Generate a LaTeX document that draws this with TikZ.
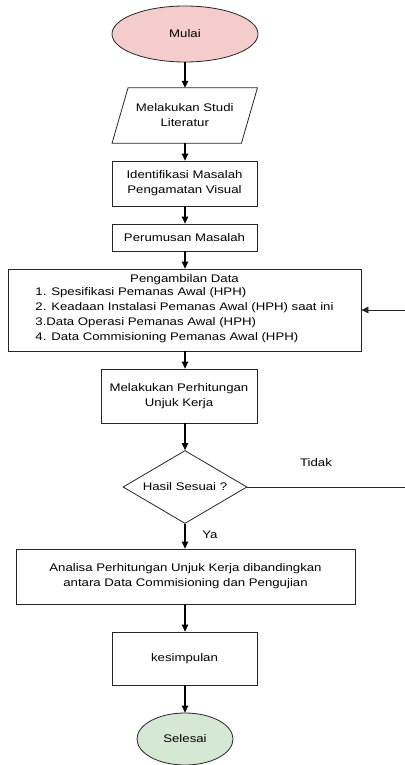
\documentclass[tikz,border=0pt]{standalone}
\usepackage{fontspec}
\setmainfont{Liberation Sans}[FakeStretch=1.2]
\usetikzlibrary{arrows.meta,shapes.geometric}
\begin{document}
\begin{tikzpicture}[x=1pt,y=-1pt,
  every node/.style={font=\fontsize{11}{15}\selectfont, inner sep=0pt, align=center},
  box/.style={draw=black!85, line width=0.8pt, fill=white},
  arr/.style={line width=1.2pt, -{Triangle[width=6.5pt,length=7pt]}},
  thinln/.style={line width=0.7pt, draw=black!85},
  lbl/.style={font=\fontsize{11}{13}\selectfont}]
\useasboundingbox (0,0) rectangle (404,765);
\node[ellipse, box, fill={rgb,255:red,244;green,204;blue,204}, minimum width=146, minimum height=56] (mulai) at (185,34) {Mulai};
\node[minimum width=129, minimum height=55] (lit) at (184.75,115.5) {Melakukan Studi\\Literatur};
\draw[draw=black!85, line width=0.8pt] ([xshift=8]lit.north west) -- ([xshift=8]lit.north east) -- ([xshift=-8]lit.south east) -- ([xshift=-8]lit.south west) -- cycle;
\node[box, minimum width=145, minimum height=45] (ident) at (184.5,183.5) {Identifikasi Masalah\\Pengamatan Visual};
\node[box, minimum width=145, minimum height=27] (rumus) at (184.5,237.5) {Perumusan Masalah};
\node[box, minimum width=353, minimum height=82] (peng) at (184.5,310) {Pengambilan Data\\[-1pt]
\begin{tabular}{@{}l@{}}1. Spesifikasi Pemanas Awal (HPH)\\2. Keadaan Instalasi Pemanas Awal (HPH) saat ini\\3.Data Operasi Pemanas Awal (HPH)\\4. Data Commisioning Pemanas Awal (HPH)\end{tabular}};
\node[box, minimum width=156, minimum height=54] (perh) at (179,396) {Melakukan Perhitungan\\Unjuk Kerja};
\node[diamond, box, minimum width=124, minimum height=73, aspect=1.7] (dec) at (185,487) {Hasil Sesuai ?};
\node[box, minimum width=339, minimum height=55] (anal) at (185.5,576.5) {Analisa Perhitungan Unjuk Kerja dibandingkan\\antara Data Commisioning dan Pengujian};
\node[box, minimum width=145, minimum height=53] (kes) at (184.5,658.5) {kesimpulan};
\node[ellipse, box, fill={rgb,255:red,213;green,232;blue,212}, minimum width=96, minimum height=52] (sel) at (185,739) {Selesai};
\coordinate (fr) at (405,487);
\draw[arr] (mulai) -- (lit.north -| mulai);
\draw[arr] (lit.south -| mulai) -- (ident.north -| mulai);
\draw[arr] (ident.south -| mulai) -- (rumus.north -| mulai);
\draw[arr] (rumus.south -| mulai) -- (peng.north -| mulai);
\draw[arr] (peng.south -| mulai) -- (perh.north -| mulai);
\draw[arr] (perh.south -| mulai) -- (dec.north);
\draw[arr] (dec.south) -- (anal.north -| mulai);
\draw[arr] (anal.south -| mulai) -- (kes.north -| mulai);
\draw[arr] (kes.south -| mulai) -- (sel.north);
\draw[thinln] (dec.east) -- (fr) -- (fr |- peng.east);
\draw[thinln, -{Triangle[width=6.5pt,length=7pt]}] (fr |- peng.east) -- (peng.east);
\node[lbl] (tidak) at (316,463) {Tidak};
\node[lbl] (ya) at (210,535) {Ya};
\end{tikzpicture}
\end{document}
